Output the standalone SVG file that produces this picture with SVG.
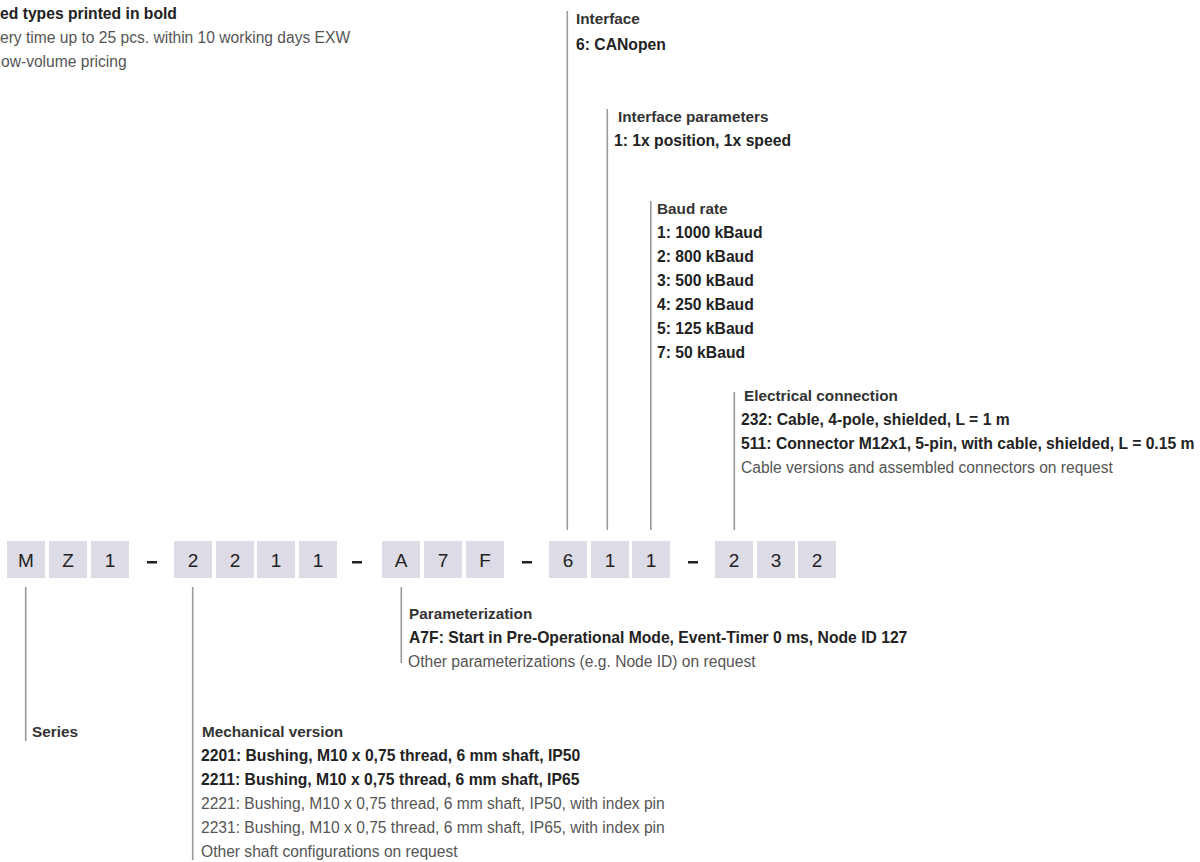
<svg xmlns="http://www.w3.org/2000/svg" width="1200" height="862" viewBox="0 0 1200 862">
<style>
text{font-family:"Liberation Sans",Arial,sans-serif;font-size:15px}
.h{fill:#333;font-weight:bold;font-size:15.3px}
.b{fill:#222;font-weight:bold;font-size:15.7px}
.l{fill:#555;font-size:15.6px}
.box{fill:#dddbe6}
.ch{font-size:19px;fill:#222;text-anchor:middle}
.dash{fill:#222}
.ln{stroke:#999;stroke-width:1.6;fill:none}
</style>
<rect width="1200" height="862" fill="#fff"/>

<g id="legend">
<text x="0" y="19" class="b">ed types printed in bold</text>
<text x="0" y="43" class="l">ery time up to 25 pcs. within 10 working days EXW</text>
<text x="1" y="67" class="l">ow-volume pricing</text>
</g>

<g id="code">
<rect class="box" x="7" y="541" width="38" height="37"/><text class="ch" x="26" y="567">M</text>
<rect class="box" x="49" y="541" width="38" height="37"/><text class="ch" x="68" y="567">Z</text>
<rect class="box" x="91" y="541" width="38" height="37"/><text class="ch" x="110" y="567">1</text>
<rect class="dash" x="147" y="561" width="10" height="2.5"/>
<rect class="box" x="174" y="541" width="38" height="37"/><text class="ch" x="193" y="567">2</text>
<rect class="box" x="216" y="541" width="38" height="37"/><text class="ch" x="235" y="567">2</text>
<rect class="box" x="257" y="541" width="38" height="37"/><text class="ch" x="276" y="567">1</text>
<rect class="box" x="299" y="541" width="38" height="37"/><text class="ch" x="318" y="567">1</text>
<rect class="dash" x="352" y="561" width="10" height="2.5"/>
<rect class="box" x="382" y="541" width="38" height="37"/><text class="ch" x="401" y="567">A</text>
<rect class="box" x="424" y="541" width="38" height="37"/><text class="ch" x="443" y="567">7</text>
<rect class="box" x="466" y="541" width="38" height="37"/><text class="ch" x="485" y="567">F</text>
<rect class="dash" x="522" y="561" width="10" height="2.5"/>
<rect class="box" x="549" y="541" width="38" height="37"/><text class="ch" x="568" y="567">6</text>
<rect class="box" x="591" y="541" width="38" height="37"/><text class="ch" x="610" y="567">1</text>
<rect class="box" x="632" y="541" width="38" height="37"/><text class="ch" x="651" y="567">1</text>
<rect class="dash" x="688" y="561" width="10" height="2.5"/>
<rect class="box" x="715" y="541" width="38" height="37"/><text class="ch" x="734" y="567">2</text>
<rect class="box" x="757" y="541" width="38" height="37"/><text class="ch" x="776" y="567">3</text>
<rect class="box" x="798" y="541" width="38" height="37"/><text class="ch" x="817" y="567">2</text>
</g>

<g id="connectors">
<line class="ln" x1="567.3" y1="11" x2="567.3" y2="530"/>
<line class="ln" x1="607.3" y1="109" x2="607.3" y2="530"/>
<line class="ln" x1="650.8" y1="201" x2="650.8" y2="530"/>
<line class="ln" x1="734.3" y1="392" x2="734.3" y2="530"/>
<line class="ln" x1="25.7" y1="587" x2="25.7" y2="741"/>
<line class="ln" x1="192.7" y1="587" x2="192.7" y2="860"/>
<line class="ln" x1="401.3" y1="587" x2="401.3" y2="663"/>
</g>

<g id="interface">
<text x="576" y="24" class="h">Interface</text>
<text x="576" y="50" class="b">6: CANopen</text>
</g>

<g id="interface-parameters">
<text x="618" y="122" class="h">Interface parameters</text>
<text x="614" y="146" class="b">1: 1x position, 1x speed</text>
</g>

<g id="baud-rate">
<text x="657" y="214" class="h">Baud rate</text>
<text x="657" y="238" class="b">1: 1000 kBaud</text>
<text x="657" y="262" class="b">2: 800 kBaud</text>
<text x="657" y="286" class="b">3: 500 kBaud</text>
<text x="657" y="310" class="b">4: 250 kBaud</text>
<text x="657" y="334" class="b">5: 125 kBaud</text>
<text x="657" y="358" class="b">7: 50 kBaud</text>
</g>

<g id="electrical-connection">
<text x="744" y="401" class="h">Electrical connection</text>
<text x="741" y="425" class="b">232: Cable, 4-pole, shielded, L = 1 m</text>
<text x="741" y="449" class="b">511: Connector M12x1, 5-pin, with cable, shielded, L = 0.15 m</text>
<text x="741" y="473" class="l">Cable versions and assembled connectors on request</text>
</g>

<g id="parameterization">
<text x="409" y="619" class="h">Parameterization</text>
<text x="409" y="643" class="b">A7F: Start in Pre-Operational Mode, Event-Timer 0 ms, Node ID 127</text>
<text x="408" y="667" class="l">Other parameterizations (e.g. Node ID) on request</text>
</g>

<g id="series">
<text x="32" y="737" class="h">Series</text>
</g>

<g id="mechanical-version">
<text x="202" y="737" class="h">Mechanical version</text>
<text x="201" y="761" class="b">2201: Bushing, M10 x 0,75 thread, 6 mm shaft, IP50</text>
<text x="201" y="785" class="b">2211: Bushing, M10 x 0,75 thread, 6 mm shaft, IP65</text>
<text x="201" y="809" class="l">2221: Bushing, M10 x 0,75 thread, 6 mm shaft, IP50, with index pin</text>
<text x="201" y="833" class="l">2231: Bushing, M10 x 0,75 thread, 6 mm shaft, IP65, with index pin</text>
<text x="201" y="857" class="l">Other shaft configurations on request</text>
</g>
</svg>
